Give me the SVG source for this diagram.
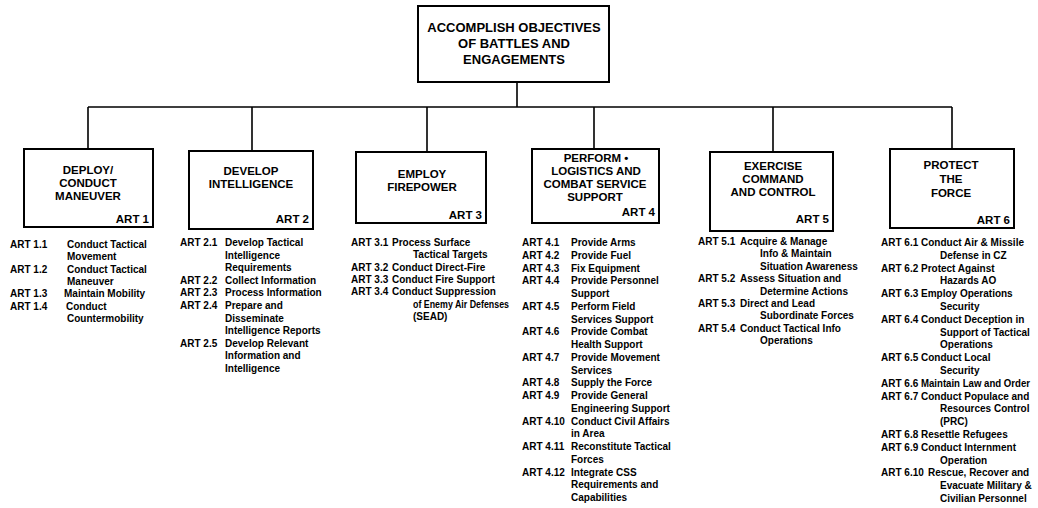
<svg xmlns="http://www.w3.org/2000/svg" width="1038" height="508" viewBox="0 0 1038 508">
<style>
.box{fill:#fff;stroke:#000;stroke-width:2}
.conn{stroke:#000;stroke-width:1.6;fill:none}
text{font-family:"Liberation Sans",Arial,sans-serif;font-weight:bold;fill:#000}
.top{font-size:13px;text-anchor:middle}
.ttl{font-size:11.5px;text-anchor:middle}
.art{font-size:11.5px;text-anchor:end}
.it{font-size:10px}
</style>
<rect width="1038" height="508" fill="#fff"/>
<g id="connectors">
<path class="conn" d="M517 82V107M88 107H952M88 107V149M252 107V151M427 107V152M594 107V149M773 107V152M952 107V149"/>
</g>
<g id="root">
<rect class="box" x="418" y="6" width="191" height="76"/>
<text class="top" x="514" y="32">ACCOMPLISH OBJECTIVES</text>
<text class="top" x="514" y="48">OF BATTLES AND</text>
<text class="top" x="514" y="64">ENGAGEMENTS</text>
</g>
<g id="art1">
<rect class="box" x="24" y="149" width="129" height="78"/>
<text class="ttl" x="88" y="174">DEPLOY/</text>
<text class="ttl" x="88" y="187">CONDUCT</text>
<text class="ttl" x="88" y="200">MANEUVER</text>
<text class="art" x="149" y="223">ART 1</text>
<g class="it-list">
<text class="it" x="10" y="248">ART 1.1</text><text class="it" x="67" y="248">Conduct Tactical</text>
<text class="it" x="67" y="260.3">Movement</text>
<text class="it" x="10" y="272.6">ART 1.2</text><text class="it" x="67" y="272.6">Conduct Tactical</text>
<text class="it" x="67" y="284.9">Maneuver</text>
<text class="it" x="10" y="297.2">ART 1.3</text><text class="it" x="64" y="297.2">Maintain Mobility</text>
<text class="it" x="10" y="309.5">ART 1.4</text><text class="it" x="66" y="309.5">Conduct</text>
<text class="it" x="67" y="321.8">Countermobility</text>
</g>
</g>
<g id="art2">
<rect class="box" x="189" y="151" width="124" height="78"/>
<text class="ttl" x="251" y="175">DEVELOP</text>
<text class="ttl" x="251" y="188">INTELLIGENCE</text>
<text class="art" x="309" y="223">ART 2</text>
<g class="it-list">
<text class="it" x="180" y="246">ART 2.1</text><text class="it" x="225" y="246">Develop Tactical</text>
<text class="it" x="225" y="258.6">Intelligence</text>
<text class="it" x="225" y="271.2">Requirements</text>
<text class="it" x="180" y="283.8">ART 2.2</text><text class="it" x="225" y="283.8">Collect Information</text>
<text class="it" x="180" y="296.4">ART 2.3</text><text class="it" x="225" y="296.4">Process Information</text>
<text class="it" x="180" y="309">ART 2.4</text><text class="it" x="225" y="309">Prepare and</text>
<text class="it" x="225" y="321.6">Disseminate</text>
<text class="it" x="225" y="334.2">Intelligence Reports</text>
<text class="it" x="180" y="346.8">ART 2.5</text><text class="it" x="225" y="346.8">Develop Relevant</text>
<text class="it" x="225" y="359.4">Information and</text>
<text class="it" x="225" y="372">Intelligence</text>
</g>
</g>
<g id="art3">
<rect class="box" x="356" y="152" width="130" height="71"/>
<text class="ttl" x="422" y="178">EMPLOY</text>
<text class="ttl" x="422" y="191">FIREPOWER</text>
<text class="art" x="482" y="219">ART 3</text>
<g class="it-list">
<text class="it" x="351" y="246">ART 3.1</text><text class="it" x="392" y="246">Process Surface</text>
<text class="it" x="413" y="258.3">Tactical Targets</text>
<text class="it" x="351" y="270.6">ART 3.2</text><text class="it" x="392" y="270.6">Conduct Direct-Fire</text>
<text class="it" x="351" y="282.9">ART 3.3</text><text class="it" x="392" y="282.9">Conduct Fire Support</text>
<text class="it" x="351" y="295.2">ART 3.4</text><text class="it" x="392" y="295.2">Conduct Suppression</text>
<text class="it" x="413" y="307.5" textLength="96" lengthAdjust="spacingAndGlyphs">of Enemy Air Defenses</text>
<text class="it" x="413" y="319.8">(SEAD)</text>
</g>
</g>
<g id="art4">
<rect class="box" x="532" y="149" width="127" height="74"/>
<text class="ttl" x="596" y="162">PERFORM •</text>
<text class="ttl" x="596" y="175">LOGISTICS AND</text>
<text class="ttl" x="595" y="188">COMBAT SERVICE</text>
<text class="ttl" x="595" y="201">SUPPORT</text>
<text class="art" x="655" y="216">ART 4</text>
<g class="it-list">
<text class="it" x="522" y="246">ART 4.1</text><text class="it" x="571" y="246">Provide Arms</text>
<text class="it" x="522" y="258.75">ART 4.2</text><text class="it" x="571" y="258.75">Provide Fuel</text>
<text class="it" x="522" y="271.5">ART 4.3</text><text class="it" x="571" y="271.5">Fix Equipment</text>
<text class="it" x="522" y="284.25">ART 4.4</text><text class="it" x="571" y="284.25">Provide Personnel</text>
<text class="it" x="571" y="297">Support</text>
<text class="it" x="522" y="309.75">ART 4.5</text><text class="it" x="571" y="309.75">Perform Field</text>
<text class="it" x="571" y="322.5">Services Support</text>
<text class="it" x="522" y="335.25">ART 4.6</text><text class="it" x="571" y="335.25">Provide Combat</text>
<text class="it" x="571" y="348">Health Support</text>
<text class="it" x="522" y="360.75">ART 4.7</text><text class="it" x="571" y="360.75">Provide Movement</text>
<text class="it" x="571" y="373.5">Services</text>
<text class="it" x="522" y="386.25">ART 4.8</text><text class="it" x="571" y="386.25">Supply the Force</text>
<text class="it" x="522" y="399">ART 4.9</text><text class="it" x="571" y="399">Provide General</text>
<text class="it" x="571" y="411.75">Engineering Support</text>
<text class="it" x="522" y="424.5">ART 4.10</text><text class="it" x="571" y="424.5">Conduct Civil Affairs</text>
<text class="it" x="571" y="437.25">in Area</text>
<text class="it" x="522" y="450">ART 4.11</text><text class="it" x="571" y="450">Reconstitute Tactical</text>
<text class="it" x="571" y="462.75">Forces</text>
<text class="it" x="522" y="475.5">ART 4.12</text><text class="it" x="571" y="475.5">Integrate CSS</text>
<text class="it" x="571" y="488.25">Requirements and</text>
<text class="it" x="571" y="501">Capabilities</text>
</g>
</g>
<g id="art5">
<rect class="box" x="710" y="152" width="123" height="79"/>
<text class="ttl" x="773" y="170">EXERCISE</text>
<text class="ttl" x="773" y="183">COMMAND</text>
<text class="ttl" x="773" y="196">AND CONTROL</text>
<text class="art" x="829" y="223">ART 5</text>
<g class="it-list">
<text class="it" x="698" y="245">ART 5.1</text><text class="it" x="740" y="245">Acquire &amp; Manage</text>
<text class="it" x="760" y="257.4">Info &amp; Maintain</text>
<text class="it" x="760" y="269.8">Situation Awareness</text>
<text class="it" x="698" y="282.2">ART 5.2</text><text class="it" x="740" y="282.2">Assess Situation and</text>
<text class="it" x="760" y="294.6">Determine Actions</text>
<text class="it" x="698" y="307">ART 5.3</text><text class="it" x="740" y="307">Direct and Lead</text>
<text class="it" x="760" y="319.4">Subordinate Forces</text>
<text class="it" x="698" y="331.8">ART 5.4</text><text class="it" x="740" y="331.8">Conduct Tactical Info</text>
<text class="it" x="760" y="344.2">Operations</text>
</g>
</g>
<g id="art6">
<rect class="box" x="890" y="149" width="124" height="79"/>
<text class="ttl" x="951" y="169">PROTECT</text>
<text class="ttl" x="951" y="183">THE</text>
<text class="ttl" x="951" y="197">FORCE</text>
<text class="art" x="1010" y="224">ART 6</text>
<g class="it-list">
<text class="it" x="881" y="246">ART 6.1</text><text class="it" x="921" y="246">Conduct Air &amp; Missile</text>
<text class="it" x="940" y="258.8">Defense in CZ</text>
<text class="it" x="881" y="271.6">ART 6.2</text><text class="it" x="921" y="271.6">Protect Against</text>
<text class="it" x="940" y="284.4">Hazards AO</text>
<text class="it" x="881" y="297.2">ART 6.3</text><text class="it" x="921" y="297.2">Employ Operations</text>
<text class="it" x="940" y="310">Security</text>
<text class="it" x="881" y="322.8">ART 6.4</text><text class="it" x="921" y="322.8">Conduct Deception in</text>
<text class="it" x="940" y="335.6">Support of Tactical</text>
<text class="it" x="940" y="348.4">Operations</text>
<text class="it" x="881" y="361.2">ART 6.5</text><text class="it" x="921" y="361.2">Conduct Local</text>
<text class="it" x="940" y="374">Security</text>
<text class="it" x="881" y="386.8">ART 6.6</text><text class="it" x="921" y="386.8" textLength="109" lengthAdjust="spacingAndGlyphs">Maintain Law and Order</text>
<text class="it" x="881" y="399.6">ART 6.7</text><text class="it" x="921" y="399.6">Conduct Populace and</text>
<text class="it" x="940" y="412.4">Resources Control</text>
<text class="it" x="940" y="425.2">(PRC)</text>
<text class="it" x="881" y="438">ART 6.8</text><text class="it" x="921" y="438">Resettle Refugees</text>
<text class="it" x="881" y="450.8">ART 6.9</text><text class="it" x="921" y="450.8">Conduct Internment</text>
<text class="it" x="940" y="463.6">Operation</text>
<text class="it" x="881" y="476.4">ART 6.10</text><text class="it" x="928" y="476.4">Rescue, Recover and</text>
<text class="it" x="940" y="489.2">Evacuate Military &amp;</text>
<text class="it" x="940" y="502">Civilian Personnel</text>
</g>
</g>
</svg>
